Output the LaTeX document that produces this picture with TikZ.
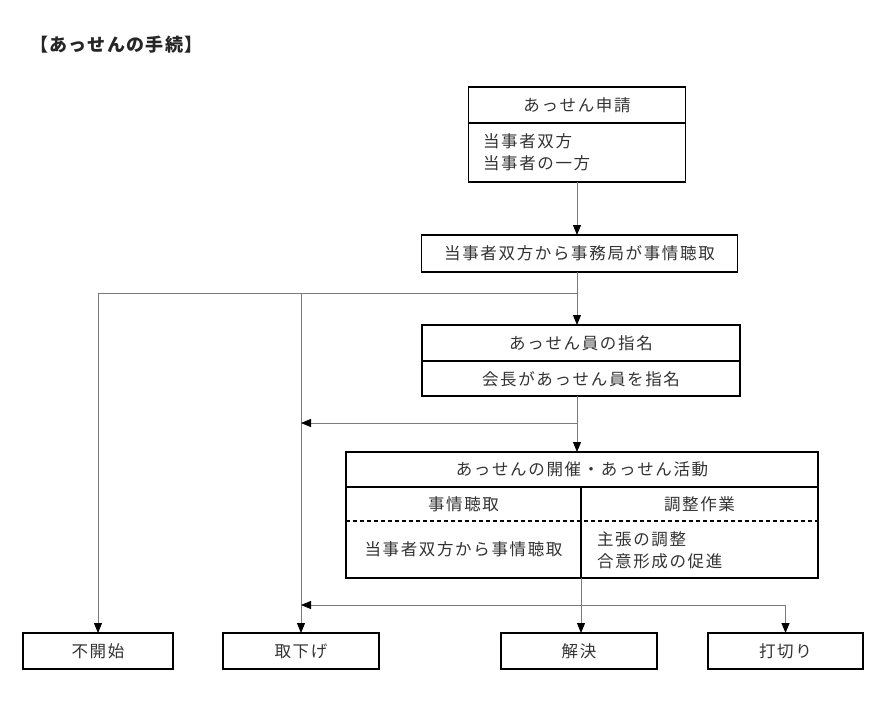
\documentclass[tikz,border=0pt]{standalone}
\usepackage{fontspec}
\usetikzlibrary{arrows.meta}
\newfontfamily\jp[LetterSpace=10]{Noto Sans CJK JP}
\newfontfamily\jpt[LetterSpace=7]{Noto Sans CJK JP}
\definecolor{txtc}{HTML}{333333}
\definecolor{linec}{HTML}{7A7A7A}
\begin{document}
\begin{tikzpicture}[x=1pt,y=-1pt,
  box/.style={draw=black, line width=1.4pt, inner sep=0pt, outer sep=0pt,
    font=\jp\fontsize{16.5}{22}\selectfont, text=txtc},
  divline/.style={draw=black, line width=1.4pt},
  dashline/.style={draw=black, line width=1.1pt, dash pattern=on 4pt off 3pt},
  txt/.style={inner sep=0pt, outer sep=0pt, font=\jp\fontsize{16.5}{22}\selectfont, text=txtc},
  conn/.style={draw=linec, line width=0.9pt},
  arr/.style={conn, -{Triangle[width=8pt,length=10pt,color=black]}}]
\useasboundingbox[fill=white] (0,0) rectangle (890,701);

% title
\node[anchor=west, inner sep=0pt, font=\jpt\bfseries\fontsize{18}{22}\selectfont, text=black!85] (title) at (30,45) {【あっせんの手続】};

% box 1
\node[box, minimum width=217, minimum height=95] (b1) at (577,134.5) {};
\draw[divline] (b1.west |- 0,123) -- (b1.east |- 0,123);
\node[txt] (b1h) at (577,105) {あっせん申請};
\node[txt, anchor=west, align=left] (b1b) at (483,152.5) {当事者双方\\当事者の一方};

% box 2
\node[box, minimum width=316, minimum height=37] (b2) at (579.5,253.5) {当事者双方から事務局が事情聴取};

% box 3
\node[box, minimum width=318, minimum height=71] (b3) at (581,360.5) {};
\draw[divline] (b3.west |- 0,361) -- (b3.east |- 0,361);
\node[txt] (b3h) at (581,343) {あっせん員の指名};
\node[txt] (b3b) at (581,379) {会長があっせん員を指名};

% box 4
\node[box, minimum width=472, minimum height=126] (b4) at (582,515) {};
\coordinate (v4) at (581,487);
\draw[divline] (b4.west |- v4) -- (b4.east |- v4);
\draw[divline] (v4) -- (v4 |- b4.south);
\draw[dashline] (b4.west |- 0,521) -- (b4.east |- 0,521);
\node[txt] (b4h) at (582,469) {あっせんの開催・あっせん活動};
\node[txt] (b4l) at (463.5,504) {事情聴取};
\node[txt] (b4r) at (699.5,504) {調整作業};
\node[txt] (b4lb) at (463.5,549) {当事者双方から事情聴取};
\node[txt, anchor=west, align=left] (b4rb) at (597,550.5) {主張の調整\\合意形成の促進};

% bottom boxes
\node[box, minimum width=150, minimum height=36] (n1) at (98,651) {不開始};
\node[box, minimum width=156, minimum height=36] (n2) at (301,651) {取下げ};
\node[box, minimum width=156, minimum height=36] (n3) at (579,651) {解決};
\node[box, minimum width=155, minimum height=36] (n4) at (785.5,651) {打切り};

% connectors
\coordinate (j1) at (577,293);
\coordinate (j2) at (577,423);
\coordinate (j3) at (581,605);
\coordinate (j4) at (785.5,605);

\draw[arr] (b1.south) -- (b1.south |- b2.north);
\draw[conn] (j1 |- b2.south) -- (j1);
\draw[arr] (j1) -- (j1 |- b3.north);
\draw[arr] (j1) -- (j1 -| n1) -- (n1.north);
\draw[arr] (j1 -| n2) -- (n2.north);
\draw[conn] (j1 |- b3.south) -- (j2);
\draw[arr] (j2) -- (j2 -| n2);
\draw[arr] (j2) -- (j2 |- b4.north);
\draw[arr] (j3 |- b4.south) -- (j3 |- n3.north);
\draw[arr] (j4) -- (j3 -| n2);
\draw[arr] (j4) -- (n4.north);
\end{tikzpicture}
\end{document}
